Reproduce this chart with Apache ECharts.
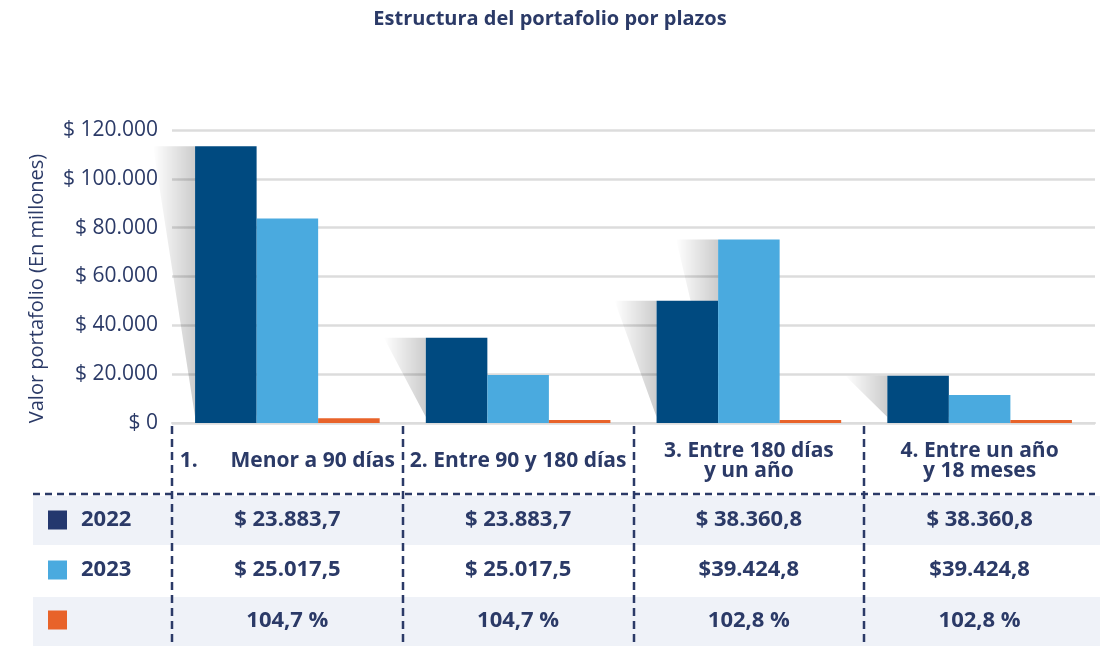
<!DOCTYPE html>
<html lang="es">
<head>
    <meta charset="UTF-8">
    <title>Estructura del portafolio por plazos</title>
    <script src="https://cdn.jsdelivr.net/npm/echarts@6/dist/echarts.min.js"></script>
    <style>
        html, body { margin: 0; padding: 0; background: #fff; }
        #main { width: 1100px; height: 646px; }
    </style>
</head>
<body>
<div id="main"></div>
<script type="text/javascript">
    // datos
    var categorias = ['1.      Menor a 90 días', '2. Entre 90 y 180 días', '3. Entre 180 días\ny un año', '4. Entre un año\ny 18 meses'];
    var valores2022 = [113300, 34900, 50100, 19400];
    var valores2023 = [83800, 19700, 75200, 11500];
    var valoresVar = [1900, 1250, 1250, 1250];
    var fila2022 = ['$ 23.883,7', '$ 23.883,7', '$ 38.360,8', '$ 38.360,8'];
    var fila2023 = ['$ 25.017,5', '$ 25.017,5', '$39.424,8', '$39.424,8'];
    var filaVar = ['104,7 %', '104,7 %', '102,8 %', '102,8 %'];
    var ticksY = [0, 20000, 40000, 60000, 80000, 100000, 120000];

    var azul = '#004a80', celeste = '#4aaadf', naranja = '#e8632a', texto = '#2b3a67';
    var fuente = 'Open Sans';

    var myChart = echarts.init(document.getElementById('main'));

    function fmtMiles(v) {
        return '$ ' + String(v).replace(/\B(?=(\d{3})+(?!\d))/g, '.');
    }

    // eje extra para cada fila de la tabla
    function ejeFila(datos, margen) {
        return {
            type: 'category', data: datos, position: 'bottom',
            axisLine: {show: false}, axisTick: {show: false}, splitLine: {show: false},
            axisLabel: {
                interval: 0, margin: margen, verticalAlign: 'middle',
                color: texto, fontFamily: fuente, fontWeight: 'bold', fontSize: 22
            }
        };
    }

    // sombra triangular a la izquierda de cada barra
    var datosSombra = categorias.map(function (c, i) { return [i, valores2022[i], valores2023[i]]; });

    function renderSombra(params, api) {
        var i = api.value(0);
        var band = api.size([1, 0])[0];
        var barW = band * 0.8 / 3;
        var centro = api.coord([i, 0]);
        var hijos = [];
        [[api.value(1), 1.5], [api.value(2), 0.5]].forEach(function (p) {
            var top = api.coord([i, p[0]]);
            var izq = centro[0] - barW * p[1];
            var base = centro[1] - 6;
            hijos.push({
                type: 'polygon',
                shape: {points: [[izq - 42, top[1]], [izq, top[1]], [izq, base]]},
                style: {
                    fill: new echarts.graphic.LinearGradient(0, 0, 1, 0, [
                        {offset: 0, color: 'rgba(0,0,0,0)'},
                        {offset: 1, color: 'rgba(0,0,0,0.2)'}
                    ])
                }
            });
        });
        return {type: 'group', children: hijos};
    }

    var option = {
        animation: false,
        title: {
            text: 'Estructura del portafolio por plazos',
            left: 'center', top: 4,
            textStyle: {color: texto, fontFamily: fuente, fontWeight: 'bold', fontSize: 20}
        },
        legend: {
            orient: 'vertical', left: 48, top: 509, padding: 0,
            itemWidth: 19, itemHeight: 19, itemGap: 28,
            icon: 'rect',
            selectedMode: false,
            textStyle: {color: texto, fontFamily: fuente, fontWeight: 'bold', fontSize: 22, padding: [0, 0, 0, 9]},
            data: [
                {name: '2022', itemStyle: {color: '#24386e'}},
                {name: '2023', itemStyle: {color: celeste}},
                {name: ' ', itemStyle: {color: naranja}}
            ]
        },
        grid: {left: 172, right: 5, top: 130, bottom: 223},
        xAxis: [
            {
                type: 'category', data: categorias,
                axisLine: {lineStyle: {color: '#dcdcdc', width: 2}},
                axisTick: {show: false},
                axisLabel: {
                    interval: 0, margin: 38, verticalAlign: 'middle', lineHeight: 20,
                    color: texto, fontFamily: fuente, fontWeight: 'bold', fontSize: 21
                }
            },
            ejeFila(fila2022, 97),
            ejeFila(fila2023, 147),
            ejeFila(filaVar, 198)
        ],
        yAxis: {
            type: 'value', min: ticksY[0], max: ticksY[ticksY.length - 1], interval: 20000,
            name: 'Valor portafolio (En millones)',
            nameLocation: 'middle', nameGap: 125,
            nameTextStyle: {color: texto, fontFamily: fuente, fontSize: 20, padding: [0, 24, 0, 0]},
            axisLine: {show: false}, axisTick: {show: false},
            splitLine: {lineStyle: {color: '#dcdcdc', width: 2.5}},
            axisLabel: {
                margin: 14, color: texto, fontFamily: fuente, fontSize: 21,
                formatter: fmtMiles
            }
        },
        series: [
            {
                type: 'custom', name: 'sombra', renderItem: renderSombra,
                data: datosSombra, encode: {x: 0, y: [1, 2]}, silent: true, z: 1
            },
            {
                name: '2022', type: 'bar', data: valores2022, z: 3,
                barGap: '0%', barCategoryGap: '20%',
                itemStyle: {color: azul}
            },
            {
                name: '2023', type: 'bar', data: valores2023, z: 3,
                itemStyle: {color: celeste}
            },
            {
                name: ' ', type: 'bar', data: valoresVar, z: 3,
                itemStyle: {color: naranja}
            }
        ]
    };

    myChart.setOption(option);

    // tabla: fondos de filas y lineas punteadas
    var tablaTop = 423, tablaBottom = 646, lineaHoriz = 494;
    var half = myChart.convertToPixel({xAxisIndex: 0}, 1) - myChart.convertToPixel({xAxisIndex: 0}, 0);
    var graficos = [
        {type: 'rect', left: 33, top: 496, shape: {width: 1067, height: 49}, style: {fill: '#eff2f8'}, z: -10},
        {type: 'rect', left: 33, top: 597, shape: {width: 1067, height: 49}, style: {fill: '#eff2f8'}, z: -10},
        {
            type: 'line', shape: {x1: 33, y1: lineaHoriz, x2: 1095, y2: lineaHoriz}, z: 10,
            style: {stroke: texto, lineWidth: 2.5, lineDash: [7, 5]}
        }
    ];
    categorias.forEach(function (c, i) {
        var x = Math.round(myChart.convertToPixel({xAxisIndex: 0}, i) - half / 2);
        graficos.push({
            type: 'line', shape: {x1: x, y1: tablaTop + 3, x2: x, y2: tablaBottom}, z: 10,
            style: {stroke: texto, lineWidth: 2.5, lineDash: [8, 5]}
        });
    });
    myChart.setOption({graphic: graficos});
</script>
</body>
</html>
